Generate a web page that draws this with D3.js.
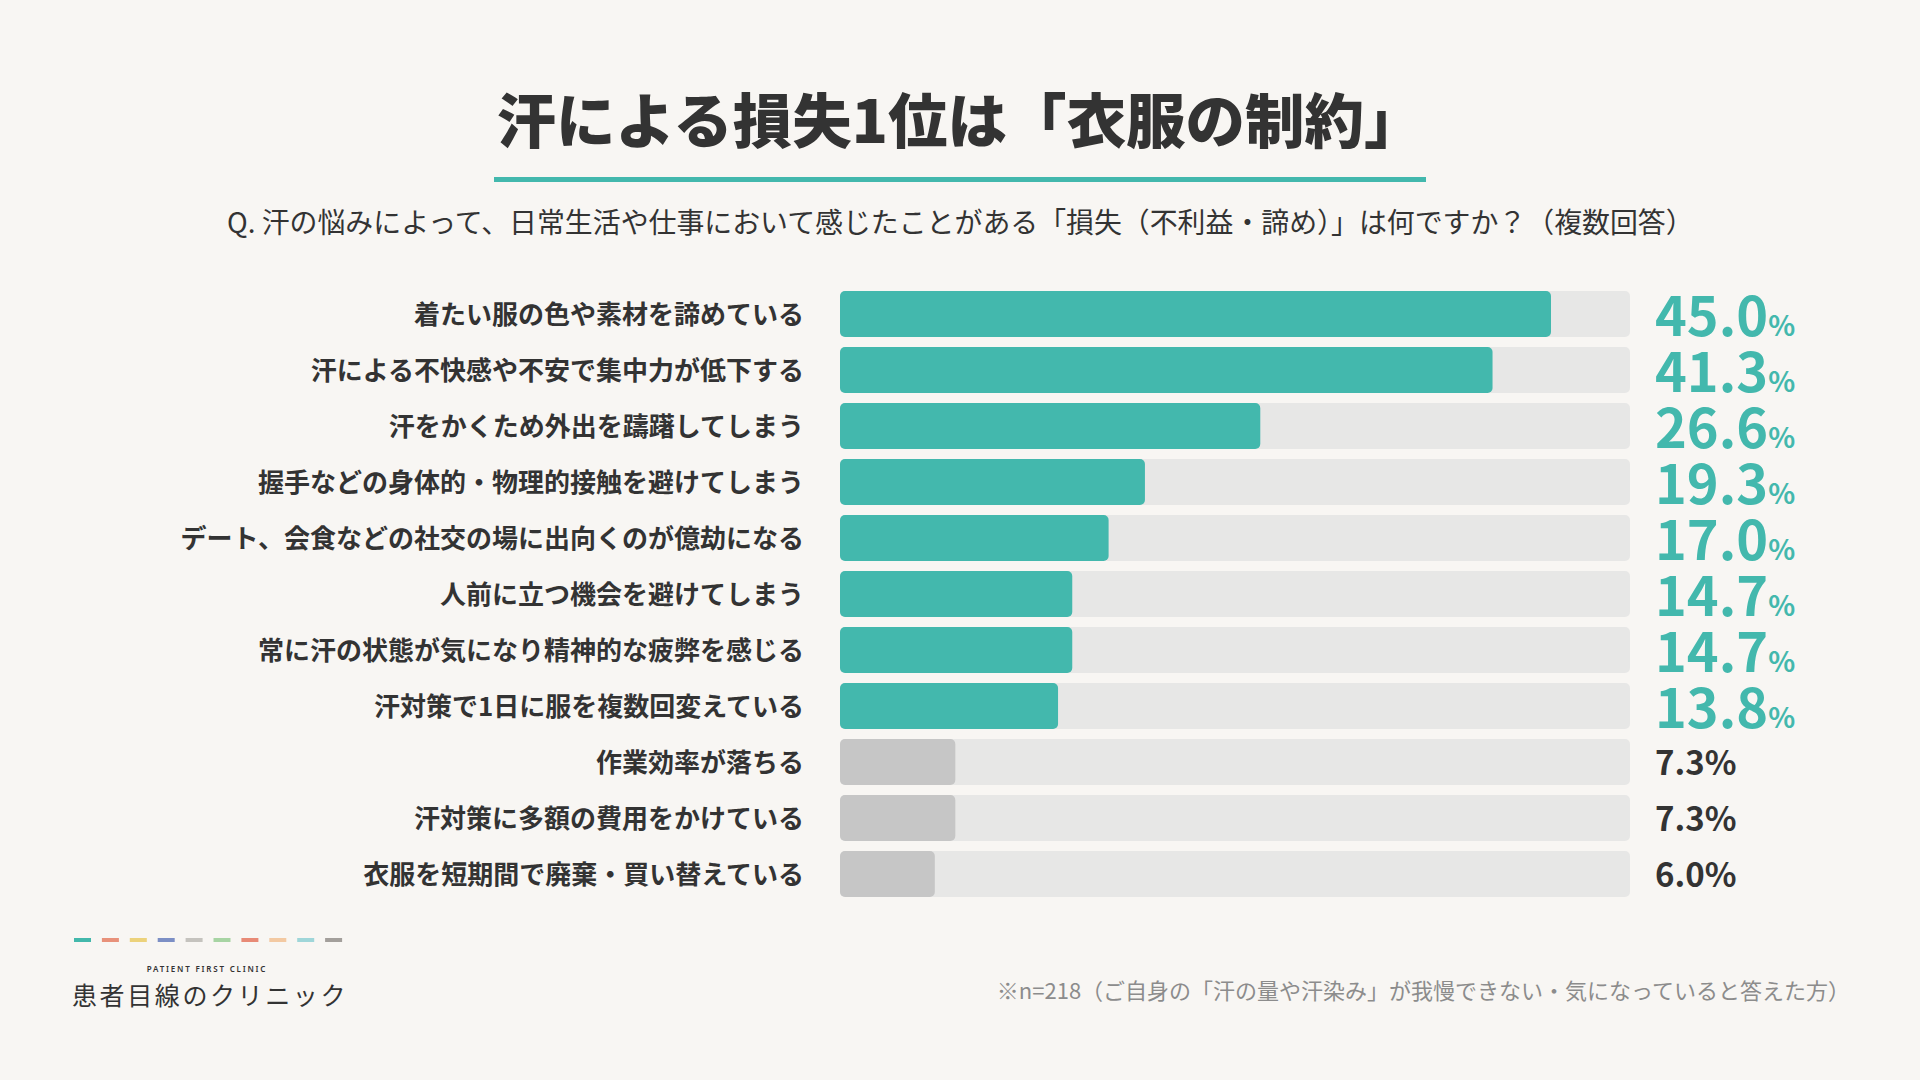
<!DOCTYPE html>
<html lang="ja">
<head>
<meta charset="utf-8">
<script src="https://cdn.jsdelivr.net/npm/d3@7"></script>
<style>
  html, body { margin: 0; padding: 0; background: #f8f6f3; }
  svg { display: block; font-family: "Noto Sans CJK JP", "Noto Sans", sans-serif; }
</style>
</head>
<body>
<div class="chart"></div>
<script>
// 項目（上から順）
var categories = [
  '着たい服の色や素材を諦めている',
  '汗による不快感や不安で集中力が低下する',
  '汗をかくため外出を躊躇してしまう',
  '握手などの身体的・物理的接触を避けてしまう',
  'デート、会食などの社交の場に出向くのが億劫になる',
  '人前に立つ機会を避けてしまう',
  '常に汗の状態が気になり精神的な疲弊を感じる',
  '汗対策で1日に服を複数回変えている',
  '作業効率が落ちる',
  '汗対策に多額の費用をかけている',
  '衣服を短期間で廃棄・買い替えている'
];
var values = [45.0, 41.3, 26.6, 19.3, 17.0, 14.7, 14.7, 13.8, 7.3, 7.3, 6.0];
var logoColors = ['#43b8ab', '#e8917a', '#ecd27b', '#7c8fc5', '#c5c3be',
                  '#a7d4a3', '#e88a76', '#f3c9a2', '#9fd6d9', '#a39f9b'];

var title = '汗による損失1位は「衣服の制約」';
var question = 'Q. 汗の悩みによって、日常生活や仕事において感じたことがある「損失（不利益・諦め）」は何ですか？（複数回答）';
var note = '※n=218（ご自身の「汗の量や汗染み」が我慢できない・気になっていると答えた方）';

var width = 1920, height = 1080;
var teal = '#43b8ad', gray = '#c6c6c6', track = '#e7e7e6', ink = '#333333';

var svg = d3.select('.chart')
  .append('svg')
  .attr('width', width)
  .attr('height', height);

svg.append('rect')
  .attr('width', width)
  .attr('height', height)
  .attr('fill', '#f8f6f3');

// タイトル
svg.append('text')
  .attr('x', 960)
  .attr('y', 143)
  .attr('text-anchor', 'middle')
  .style('font-size', '59.5px')
  .style('font-weight', 900)
  .style('fill', ink)
  .text(title);

svg.append('rect')
  .attr('x', 494)
  .attr('y', 177)
  .attr('width', 932)
  .attr('height', 5)
  .attr('fill', teal);

svg.append('text')
  .attr('x', 227)
  .attr('y', 233)
  .style('font-size', '27.9px')
  .style('fill', ink)
  .text(question);

// スケール
var x = d3.scaleLinear().domain([0, 50]).range([840, 1630]);
var y = d3.scaleBand()
  .domain(categories)
  .range([286, 286 + categories.length * 56])
  .paddingInner(10 / 56)
  .paddingOuter(5 / 56);

var rows = svg.selectAll('.row')
  .data(categories.map((c, i) => ({ name: c, value: values[i] })))
  .enter().append('g')
  .attr('class', 'row')
  .attr('transform', d => 'translate(0,' + y(d.name) + ')');

rows.append('rect')
  .attr('x', x(0))
  .attr('width', x(50) - x(0))
  .attr('height', y.bandwidth())
  .attr('rx', 5)
  .attr('fill', track);

rows.append('rect')
  .attr('x', x(0))
  .attr('width', d => x(d.value) - x(0))
  .attr('height', y.bandwidth())
  .attr('rx', 5)
  .attr('fill', d => d.value >= 10 ? teal : gray);

rows.append('text')
  .attr('x', 804)
  .attr('y', y.bandwidth() / 2 + 9.5)
  .attr('text-anchor', 'end')
  .style('font-size', '26px')
  .style('font-weight', 700)
  .style('fill', ink)
  .text(d => d.name);

// 値ラベル
var big = rows.filter(d => d.value >= 10).append('text')
  .attr('x', 1655)
  .attr('y', y.bandwidth() / 2 + 22)
  .style('fill', teal)
  .style('font-weight', 700);
big.append('tspan')
  .style('font-size', '54px')
  .text(d => d.value.toFixed(1));
big.append('tspan')
  .style('font-size', '28px')
  .text('%');

rows.filter(d => d.value < 10).append('text')
  .attr('x', 1655)
  .attr('y', y.bandwidth() / 2 + 13)
  .style('fill', ink)
  .style('font-weight', 700)
  .style('font-size', '33px')
  .text(d => d.value.toFixed(1) + '%');

// 注記
svg.append('text')
  .attr('x', 1850)
  .attr('y', 999)
  .attr('text-anchor', 'end')
  .style('font-size', '22px')
  .style('fill', '#8c8c8c')
  .text(note);

// ロゴ
svg.selectAll('.dash')
  .data(logoColors)
  .enter().append('rect')
  .attr('class', 'dash')
  .attr('x', (d, i) => 74 + i * 27.9)
  .attr('y', 938)
  .attr('width', 17)
  .attr('height', 4)
  .attr('fill', d => d);

svg.append('text')
  .attr('x', 207)
  .attr('y', 972)
  .attr('text-anchor', 'middle')
  .style('font-family', '"Noto Sans", sans-serif')
  .style('font-size', '8px')
  .style('font-weight', 600)
  .style('letter-spacing', '1.8px')
  .style('fill', ink)
  .text('PATIENT  FIRST  CLINIC');

svg.append('text')
  .attr('x', 72)
  .attr('y', 1005)
  .style('font-size', '25px')
  .style('letter-spacing', '2.6px')
  .style('fill', ink)
  .text('患者目線のクリニック');
</script>
</body>
</html>
